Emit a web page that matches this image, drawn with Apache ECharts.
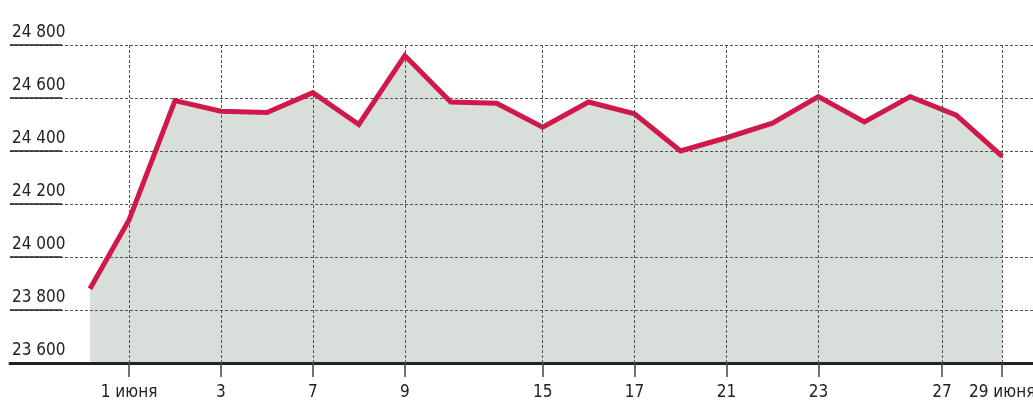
<!DOCTYPE html>
<html>
<head>
<meta charset="utf-8">
<script src="https://cdn.jsdelivr.net/npm/echarts@6/dist/echarts.min.js"></script>
<style>
  html, body { margin: 0; padding: 0; background: #fff; }
  #chart { width: 1033px; height: 407px; }
</style>
</head>
<body>
<div id="chart"></div>
<script>
// положение точек (торговые дни) и значения
const dayIndex = [0.15, 1, 2, 3, 4, 5, 6, 7, 8, 9, 10, 11, 12, 13, 14, 15, 16, 17, 18, 19, 20];
const values = [23880, 24140, 24590, 24550, 24545, 24620, 24500, 24760, 24585, 24580,
  24490, 24585, 24540, 24400, 24450, 24505, 24605, 24510, 24605, 24535, 24380];
// подписи оси X и их положение
const tickAt = [1, 3, 5, 7, 10, 12, 14, 16, 18.69, 20];
const tickLabels = ['1 июня', '3', '7', '9', '15', '17', '21', '23', '27', '29 июня'];

const font = "'DejaVu Sans Condensed', 'Liberation Sans Narrow', sans-serif";
const points = values.map((v, i) => [dayIndex[i], v]);

const chart = echarts.init(document.getElementById('chart'));
chart.setOption({
  animation: false,
  grid: { left: 10, right: 0, top: 45, bottom: 44, outerBoundsMode: 'none', containLabel: false },
  xAxis: {
    type: 'value',
    min: -1.59,
    max: 20.67,
    axisLine: { onZero: false, lineStyle: { color: '#222', width: 3 } },
    axisTick: { customValues: tickAt, length: 14, lineStyle: { color: '#444', width: 1.5 } },
    axisLabel: {
      customValues: tickAt,
      margin: 21,
      fontFamily: font,
      fontSize: 17,
      color: '#222',
      formatter: v => tickLabels[tickAt.indexOf(v)]
    },
    splitLine: { show: false }
  },
  yAxis: {
    type: 'value',
    min: 23600,
    max: 24800,
    interval: 200,
    axisLine: { show: false, onZero: false },
    axisTick: { show: true, inside: true, length: 52, lineStyle: { color: '#222', width: 1.5 } },
    axisLabel: {
      inside: true,
      margin: 2,
      verticalAlign: 'bottom',
      padding: [0, 0, 4, 0],
      fontFamily: font,
      fontSize: 17,
      color: '#222',
      formatter: v => String(v).replace(/\B(?=(\d{3})+$)/, ' ')
    },
    splitLine: { lineStyle: { color: '#555', type: [3, 2], width: 1 } }
  },
  series: [
    {
      type: 'line',
      data: points,
      z: -1,
      silent: true,
      symbol: 'none',
      lineStyle: { width: 0 },
      areaStyle: { color: '#d8dfdb', opacity: 1 }
    },
    {
      type: 'line',
      data: [],
      z: 1,
      silent: true,
      markLine: {
        symbol: 'none',
        silent: true,
        label: { show: false },
        lineStyle: { color: '#555', type: [3, 2], width: 1 },
        data: tickAt.map(x => ({ xAxis: x }))
      }
    },
    {
      type: 'line',
      data: points,
      z: 3,
      symbol: 'none',
      lineStyle: { color: '#d0184b', width: 5, join: 'miter' }
    }
  ]
});
</script>
</body>
</html>
